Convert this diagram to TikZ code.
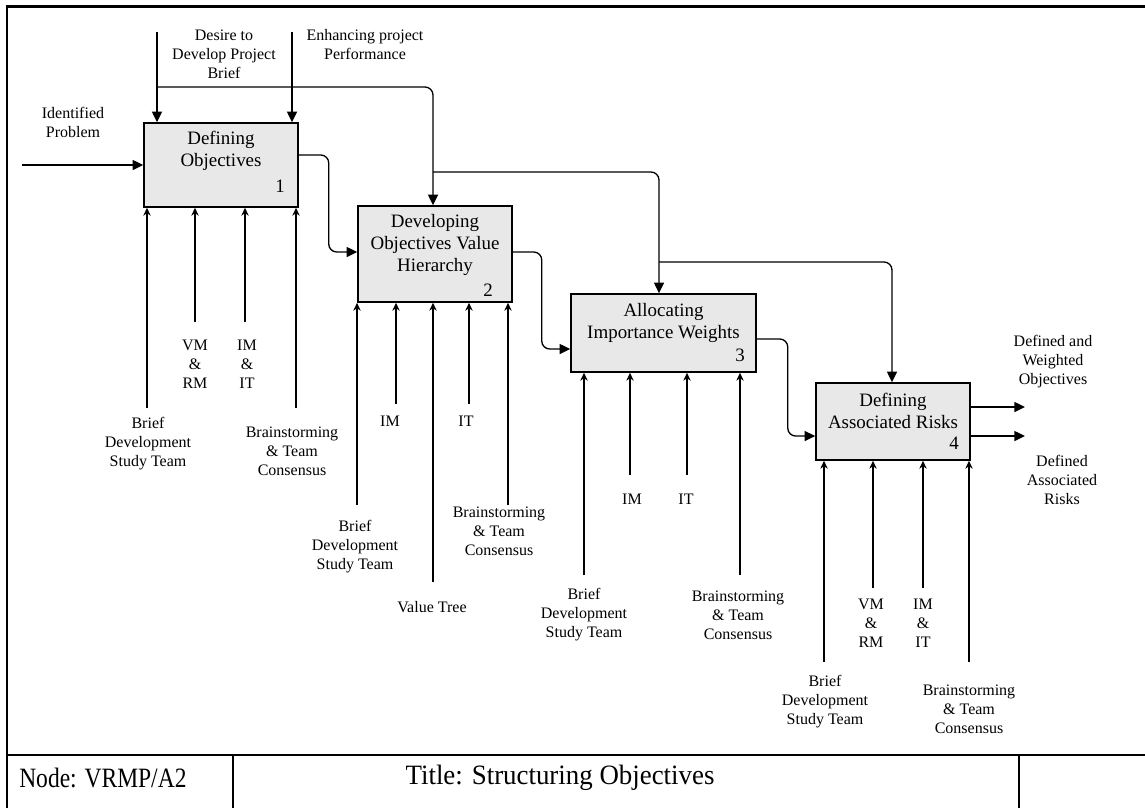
\documentclass[tikz,border=0pt]{standalone}
\usepackage{fontspec}
\setmainfont{Liberation Serif}
\usetikzlibrary{arrows.meta}

\begin{document}
\begin{tikzpicture}[x=0.75pt,y=-0.75pt,
  proc/.style={draw, line width=1.1pt, fill=gray!18, inner sep=0pt},
  ttl/.style={align=center, inner sep=0pt, font=\fontsize{14.2}{16.5}\selectfont},
  num/.style={inner sep=0pt, font=\fontsize{14.2}{16.5}\selectfont},
  lbl/.style={align=center, inner sep=0pt, font=\fontsize{12}{14.25}\selectfont},
  foot/.style={inner sep=0pt, font=\fontsize{21}{25}\selectfont},
  flow/.style={line width=1pt, -{Triangle[length=8pt,width=7.5pt]}, rounded corners=6pt},
  mech/.style={line width=1pt, -{Stealth[length=6pt,width=5.5pt,inset=2pt]}},
  frame/.style={line width=1.6pt}]
\useasboundingbox (0,0) rectangle (1145,808);

% page frame and footer
\draw[frame] (7,808) -- (7,6.5) -- (1145,6.5);
\draw[frame] (7,755) -- (1145,755);
\draw[frame] (233,755) -- (233,808);
\draw[frame] (1019,755) -- (1019,808);
\node[foot, anchor=west] (fnode) at (19,778) {\scalebox{0.84}[1]{Node: VRMP/A2}};
\node[foot] (ftitle) at (560,778) {\scalebox{0.96}[1]{Title: Structuring Objectives}};

% activity boxes
\node[proc, minimum width=115.5pt, minimum height=63pt] (b1) at (221,165) {};
\node[proc, minimum width=115.5pt, minimum height=72pt] (b2) at (435,254) {};
\node[proc, minimum width=138.75pt, minimum height=58.5pt] (b3) at (663.5,333) {};
\node[proc, minimum width=115.5pt, minimum height=57.75pt] (b4) at (893,421.5) {};

\node[ttl] (t1) at (221,151) {Defining\\Objectives};
\node[num] (n1) at (280,186) {1};
\node[ttl] (t2) at (435,245) {Developing\\Objectives Value\\Hierarchy};
\node[num] (n2) at (488,290) {2};
\node[ttl] (t3) at (663.5,323) {Allocating\\Importance Weights};
\node[num] (n3) at (740,355) {3};
\node[ttl] (t4) at (893,411) {Defining\\Associated Risks};
\node[num] (n4) at (954,443) {4};

% input
\coordinate (inP) at (22,165);
\draw[flow] (inP) -- (inP -| b1.west);
\node[lbl] (lin) at (73,122.5) {Identified\\Problem};

% controls
\coordinate (cA) at (157,32);
\coordinate (cB) at (292,32);
\draw[flow] (cA) -- (cA |- b1.north);
\draw[flow] (cB) -- (cB |- b1.north);
\node[lbl] (lcA) at (224,54) {Desire to\\Develop Project\\Brief};
\node[lbl] (lcB) at (365,45) {Enhancing project\\Performance};

\coordinate (jA) at (157,87);
\coordinate (k2) at (433,87);
\draw[flow] (jA) -- (k2) -- (k2 |- b2.north);
\coordinate (j2) at (433,172);
\coordinate (k3) at (659,172);
\draw[flow] (j2) -- (k3) -- (k3 |- b3.north);
\coordinate (j3) at (659,262);
\coordinate (k4) at (892,262);
\draw[flow] (j3) -- (k4) -- (k4 |- b4.north);

% box to box flows
\draw[flow] ([yshift=7.5pt]b1.east) -- ++(30,0) |- ([yshift=1.5pt]b2.west);
\draw[flow] ([yshift=1.5pt]b2.east) -- ++(29,0) |- ([yshift=-12pt]b3.west);
\draw[flow] ([yshift=-4.5pt]b3.east) -- ++(31,0) |- ([yshift=-10.9pt]b4.west);

% outputs
\coordinate (out1) at (1025,407);
\coordinate (out2) at (1025,436);
\draw[flow] (out1 -| b4.east) -- (out1);
\draw[flow] (out2 -| b4.east) -- (out2);
\node[lbl] (lo1) at (1053,362) {Defined and\\Weighted\\Objectives};
\node[lbl] (lo2) at (1062,480) {Defined\\Associated\\Risks};

% mechanisms, box 1
\coordinate (m11) at (147,408);
\coordinate (m12) at (195,322);
\coordinate (m13) at (245,322);
\coordinate (m14) at (296,408);
\foreach \m in {m11,m12,m13,m14} \draw[mech] (\m) -- (\m |- b1.south);
\node[lbl] (l11) at (148,444) {Brief\\Development\\Study Team};
\node[lbl] (l12) at (195,364) {VM\\\&\\RM};
\node[lbl] (l13) at (247,364) {IM\\\&\\IT};
\node[lbl] (l14) at (292,451) {Brainstorming\\\& Team\\Consensus};

% mechanisms, box 2
\coordinate (m21) at (357,505);
\coordinate (m22) at (396,404);
\coordinate (m23) at (433,582);
\coordinate (m24) at (469,404);
\coordinate (m25) at (508,505);
\foreach \m in {m21,m22,m23,m24,m25} \draw[mech] (\m) -- (\m |- b2.south);
\node[lbl] (l21) at (355,547) {Brief\\Development\\Study Team};
\node[lbl] (l22) at (390,421) {IM};
\node[lbl] (l23) at (432,607) {Value Tree};
\node[lbl] (l24) at (466,421) {IT};
\node[lbl] (l25) at (499,531) {Brainstorming\\\& Team\\Consensus};

% mechanisms, box 3
\coordinate (m31) at (584,575);
\coordinate (m32) at (630,475);
\coordinate (m33) at (687,475);
\coordinate (m34) at (740,575);
\foreach \m in {m31,m32,m33,m34} \draw[mech] (\m) -- (\m |- b3.south);
\node[lbl] (l31) at (584,615) {Brief\\Development\\Study Team};
\node[lbl] (l32) at (632,499) {IM};
\node[lbl] (l33) at (686,499) {IT};
\node[lbl] (l34) at (738,615) {Brainstorming\\\& Team\\Consensus};

% mechanisms, box 4
\coordinate (m41) at (824,662);
\coordinate (m42) at (873,588);
\coordinate (m43) at (923,588);
\coordinate (m44) at (969,662);
\foreach \m in {m41,m42,m43,m44} \draw[mech] (\m) -- (\m |- b4.south);
\node[lbl] (l41) at (825,702) {Brief\\Development\\Study Team};
\node[lbl] (l42) at (871,623) {VM\\\&\\RM};
\node[lbl] (l43) at (923,623) {IM\\\&\\IT};
\node[lbl] (l44) at (969,709) {Brainstorming\\\& Team\\Consensus};
\end{tikzpicture}
\end{document}
